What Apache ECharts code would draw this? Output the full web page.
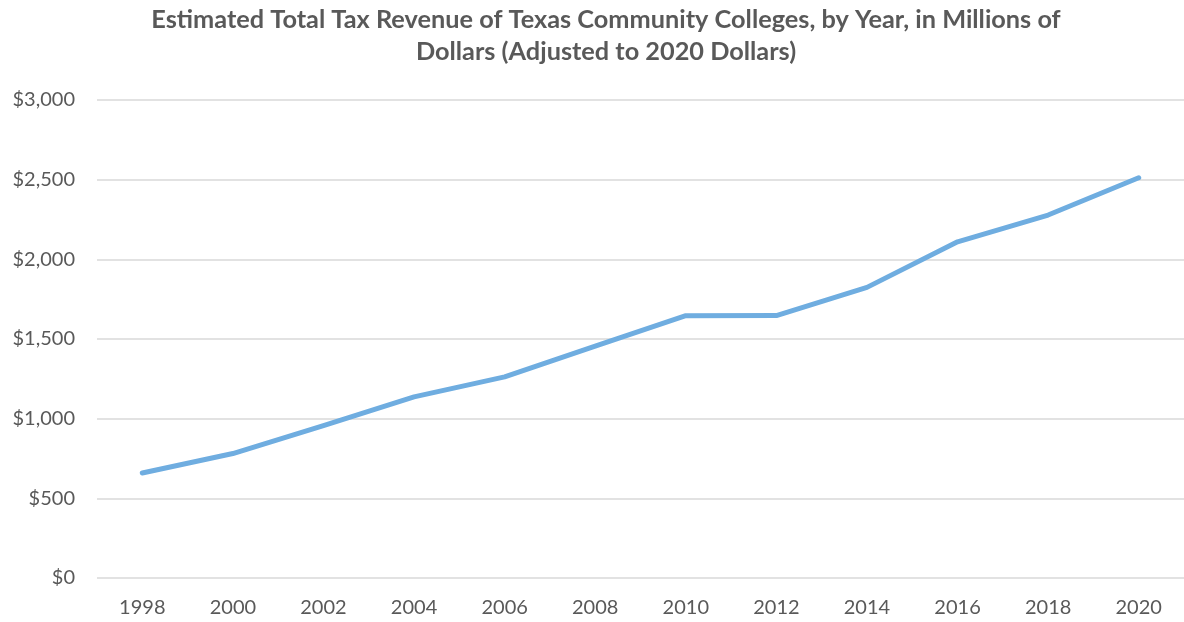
<!DOCTYPE html>
<html>
<head>
<meta charset="utf-8">
<script src="https://cdn.jsdelivr.net/npm/echarts@6/dist/echarts.min.js"></script>
<style>html,body{margin:0;padding:0;background:#fff}#c{width:1184px;height:622px}</style>
</head>
<body>
<div id="c"></div>
<script>
const years = ['1998','2000','2002','2004','2006','2008','2010','2012','2014','2016','2018','2020'];
const revenue = [659, 781, 956, 1137, 1262, 1455, 1646, 1647, 1824, 2110, 2278, 2512];
const yTicks = [0, 500, 1000, 1500, 2000, 2500, 3000];
const titleText = 'Estimated Total Tax Revenue of Texas Community Colleges, by Year, in Millions of\nDollars (Adjusted to 2020 Dollars)';

const chart = echarts.init(document.getElementById('c'), null, {renderer: 'canvas'});
chart.setOption({
  animation: false,
  backgroundColor: '#ffffff',
  title: {
    text: titleText,
    left: 601,
    textAlign: 'center',
    top: -1,
    textStyle: {
      fontFamily: 'Lato',
      fontWeight: 'bold',
      fontSize: 25.3,
      lineHeight: 32,
      color: '#595959'
    }
  },
  grid: {left: 97, right: 0, top: 100, bottom: 44, containLabel: false},
  xAxis: {
    type: 'category',
    data: years,
    boundaryGap: true,
    axisLine: {show: false},
    axisTick: {show: false},
    axisLabel: {color: '#595959', fontSize: 20, fontFamily: 'Lato', margin: 20}
  },
  yAxis: {
    type: 'value',
    min: yTicks[0],
    max: yTicks[yTicks.length - 1],
    interval: 500,
    axisLine: {show: false},
    axisTick: {show: false},
    splitLine: {lineStyle: {color: '#d9d9d9', width: 1.5}},
    axisLabel: {
      color: '#595959', fontSize: 20, fontFamily: 'Lato', margin: 22,
      formatter: v => '$' + v.toLocaleString('en-US')
    }
  },
  series: [{
    type: 'line',
    data: revenue,
    symbol: 'none',
    lineStyle: {color: '#6fade0', width: 5, cap: 'round', join: 'round'},
    itemStyle: {color: '#6fade0'}
  }]
});
</script>
</body>
</html>
